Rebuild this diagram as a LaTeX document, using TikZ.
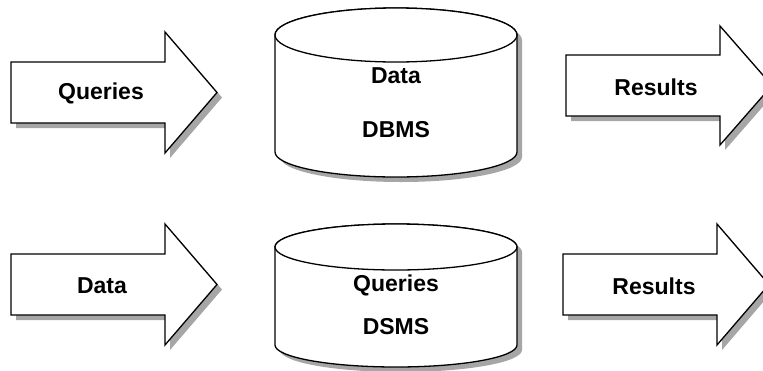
\documentclass[tikz,border=0pt]{standalone}
\usepackage{fontspec}
\setmainfont{Liberation Sans}
\begin{document}
\begin{tikzpicture}[x=1pt,y=-1pt,
  outl/.style={draw=black,line width=1.3pt,fill=white,line join=miter},
  shad/.style={fill=black!35,draw=none},
  lbl/.style={font=\fontsize{23}{26}\selectfont\bfseries,inner sep=0pt}]
\useasboundingbox (0,0) rectangle (763,370);
\clip (0,0) rectangle (763,370);
% ---------- arrows ----------
% Queries arrow
\fill[shad,shift={(5,5)}] (11,62) -- (165,62) -- (165,32) -- (217,92.5) -- (165,153) -- (165,123) -- (11,123) -- cycle;
\draw[outl] (11,62) -- (165,62) -- (165,32) -- (217,92.5) -- (165,153) -- (165,123) -- (11,123) -- cycle;
\node[lbl] (q1) at (101,93) {Queries};
% Results arrow top
\fill[shad,shift={(5,5)}] (566,55) -- (720,55) -- (720,26) -- (772,85.5) -- (720,145) -- (720,116) -- (566,116) -- cycle;
\draw[outl] (566,55) -- (720,55) -- (720,26) -- (772,85.5) -- (720,145) -- (720,116) -- (566,116) -- cycle;
\node[lbl] (r1) at (656,87) {Results};
% Data arrow
\fill[shad,shift={(5,5)}] (11,254) -- (165,254) -- (165,224) -- (217,284.5) -- (165,345) -- (165,315) -- (11,315) -- cycle;
\draw[outl] (11,254) -- (165,254) -- (165,224) -- (217,284.5) -- (165,345) -- (165,315) -- (11,315) -- cycle;
\node[lbl] (d2) at (102,286) {Data};
% Results arrow bottom
\fill[shad,shift={(5,5)}] (563,254) -- (717,254) -- (717,224) -- (769,284.5) -- (717,345) -- (717,315) -- (563,315) -- cycle;
\draw[outl] (563,254) -- (717,254) -- (717,224) -- (769,284.5) -- (717,345) -- (717,315) -- (563,315) -- cycle;
\node[lbl] (r2) at (654,286) {Results};
% ---------- cylinders ----------
% DBMS
\fill[shad,shift={(5,5)}] (275,35) -- (275,152) arc[start angle=180,end angle=360,x radius=121pt,y radius=25pt] -- (517,35) arc[start angle=0,end angle=180,x radius=121pt,y radius=27pt] -- cycle;
\draw[outl] (275,35) -- (275,152) arc[start angle=180,end angle=360,x radius=121pt,y radius=25pt] -- (517,35) arc[start angle=0,end angle=180,x radius=121pt,y radius=27pt] -- cycle;
\draw[outl] (396,35) ellipse[x radius=121pt,y radius=27pt];
\node[lbl] (c1a) at (396,76) {Data};
\node[lbl] (c1b) at (396,130) {DBMS};
% DSMS
\fill[shad,shift={(5,5)}] (275,247) -- (275,345) arc[start angle=180,end angle=360,x radius=121pt,y radius=22pt] -- (517,247) arc[start angle=0,end angle=180,x radius=121pt,y radius=23pt] -- cycle;
\draw[outl] (275,247) -- (275,345) arc[start angle=180,end angle=360,x radius=121pt,y radius=22pt] -- (517,247) arc[start angle=0,end angle=180,x radius=121pt,y radius=23pt] -- cycle;
\draw[outl] (396,247) ellipse[x radius=121pt,y radius=23pt];
\node[lbl] (c2a) at (396,285) {Queries};
\node[lbl] (c2b) at (396,327) {DSMS};
\end{tikzpicture}
\end{document}
